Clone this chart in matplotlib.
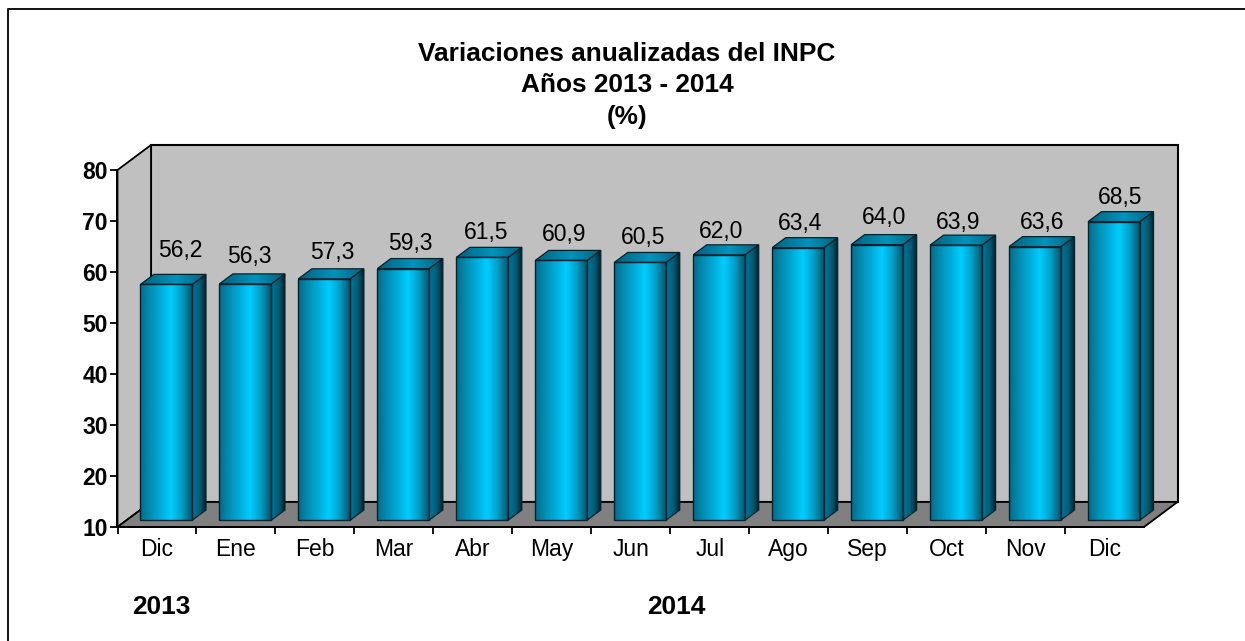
import numpy as np
import matplotlib
matplotlib.use("Agg")
import matplotlib.pyplot as plt
from matplotlib.colors import LinearSegmentedColormap
from matplotlib.patches import Polygon, Rectangle
from matplotlib.transforms import Affine2D

months = ["Dic", "Ene", "Feb", "Mar", "Abr", "May", "Jun", "Jul", "Ago", "Sep", "Oct", "Nov", "Dic"]
labels = ["56,2", "56,3", "57,3", "59,3", "61,5", "60,9", "60,5", "62,0", "63,4", "64,0", "63,9", "63,6", "68,5"]
values = [56.2, 56.3, 57.3, 59.3, 61.5, 60.9, 60.5, 62.0, 63.4, 64.0, 63.9, 63.6, 68.5]
yticks = [10, 20, 30, 40, 50, 60, 70, 80]
years = ["2013", "2014"]
title_lines = ["Variaciones anualizadas del INPC", "Años 2013 - 2014", "(%)"]

# hand placement of the value labels relative to each bar's top centre (pixels)
label_dx = [14, 4, 8, 7, 4, 3, 3, 2, 2, 7, 2, 7, 6]
label_dy = [34, 27, 26, 25, 25, 25.5, 24.5, 23, 24, 27, 23, 24, 24]

W, H = 1245, 641
plt.rcParams['font.family'] = ['Liberation Sans', 'DejaVu Sans']
fig = plt.figure(figsize=(W / 100, H / 100), dpi=100, facecolor="white")
L, R, B, T = 117.5, 1144, 527, 170
ax = fig.add_axes([L / W, 1 - B / H, (R - L) / W, (B - T) / H])
ax.set_xlim(-0.5, 12.5)
ax.set_ylim(10, 80)
ax.patch.set_visible(False)
for s in ("top", "right"):
    ax.spines[s].set_visible(False)
for s in ("left", "bottom"):
    ax.spines[s].set_linewidth(1.4)
    ax.spines[s].set_zorder(1.5)

WALL = (33.5, 25)
def off(dx, dy):
    return ax.transData + Affine2D().translate(dx, dy)

x0, x1 = ax.get_xlim()
y0, y1 = ax.get_ylim()
wx, wy = WALL
ec = "#000000"
ax.add_patch(Rectangle((x0, y0), x1 - x0, y1 - y0, fc="#c0c0c0", ec=ec, lw=1.5,
                       transform=off(wx, wy), clip_on=False, zorder=0.5))
dl = ax.transData.transform([(x0, y0), (x0, y1), (x1, y0)])
(ax_l, ay_b), (_, ay_t), (ax_r, _) = dl
disp = Affine2D()
ax.add_patch(Polygon([(ax_l, ay_b), (ax_l, ay_t), (ax_l + wx, ay_t + wy), (ax_l + wx, ay_b + wy)],
                     closed=True, fc="#c0c0c0", ec=ec, lw=1.3, transform=disp, clip_on=False, zorder=0.6))
ax.add_patch(Polygon([(ax_l, ay_b), (ax_r, ay_b), (ax_r + wx, ay_b + wy), (ax_l + wx, ay_b + wy)],
                     closed=True, fc="#808080", ec=ec, lw=1.3, transform=disp, clip_on=False, zorder=0.7))

front = LinearSegmentedColormap.from_list("f", [(0, "#046a88"), (0.15, "#0486aa"), (0.6, "#00ccff"), (0.8, "#03a0c8"), (1, "#04566e")])
side = LinearSegmentedColormap.from_list("s", [(0, "#00789e"), (0.6, "#005870"), (1, "#001c26")])
top = LinearSegmentedColormap.from_list("t", [(0, "#04607c"), (0.55, "#0094bd"), (1, "#04607c")])
g = np.linspace(0, 1, 128)[None, :]

bw = 52 / ((R - L) / 13)
sx, sy = 9.5, 7
dx, dy = 13.5, 10
for i, v in enumerate(values):
    a, b = i - bw / 2, i + bw / 2
    z = 2 + i * 0.01
    t = off(sx, sy)
    ax.imshow(g, cmap=front, extent=(a, b, y0, v), aspect="auto", transform=t, zorder=z, clip_on=False)
    ax.add_patch(Rectangle((a, y0), b - a, v - y0, fc="none", ec="#06222c", lw=1.0, transform=t, zorder=z + 0.003, clip_on=False))
    pa, pb = ax.transData.transform([(a, y0), (b, v)])
    xa, ya = pa + (sx, sy)
    xb, yb = pb + (sx, sy)
    inv = ax.transData.inverted()
    poly = Polygon([(xb, ya), (xb, yb), (xb + dx, yb + dy), (xb + dx, ya + dy)], closed=True, fc="none", ec="#06222c", lw=0.9,
                   transform=disp, zorder=z + 0.003, clip_on=False)
    ax.add_patch(poly)
    (ea, ev0), (eb, ev1) = inv.transform([(xb, ya), (xb + dx, yb + dy)])
    im2 = ax.imshow(g, cmap=side, extent=(ea, eb, ev0, ev1), aspect="auto", zorder=z + 0.001)
    im2.set_clip_path(poly)
    im2.set_clip_box(fig.bbox)
    poly2 = Polygon([(xa, yb), (xb, yb), (xb + dx, yb + dy), (xa + dx, yb + dy)], closed=True, fc="none", ec="#06222c", lw=0.9,
                    transform=disp, zorder=z + 0.003, clip_on=False)
    ax.add_patch(poly2)
    (ea, ev0), (eb, ev1) = inv.transform([(xa, yb), (xb + dx, yb + dy)])
    im3 = ax.imshow(g, cmap=top, extent=(ea, eb, ev0, ev1), aspect="auto", zorder=z + 0.002)
    im3.set_clip_path(poly2)
    im3.set_clip_box(fig.bbox)
    ax.annotate(labels[i], (i, v), xytext=(sx + label_dx[i], sy + label_dy[i]), textcoords="offset pixels",
                ha="center", va="center", fontsize=16.5, color="#000000", zorder=5, annotation_clip=False)

ax.set_xlim(x0, x1)
ax.set_ylim(y0, y1)
ax.set_xticks(np.arange(-0.5, 12.0, 1))
ax.set_xticklabels([])
ax.tick_params(axis="x", length=5, width=1.3, color="black")
ax.set_yticks(yticks)
ax.set_yticklabels([str(t) for t in yticks], fontsize=16.5, fontweight="bold")
ax.tick_params(axis="y", length=5, width=1.3, color="black", pad=2)
for i, m in enumerate(months):
    ax.annotate(m, (i, y0), xytext=(0, -29), textcoords="offset pixels", ha="center", va="baseline",
                fontsize=16.5, annotation_clip=False)

fig.add_artist(plt.Line2D([8 / W, 8 / W, 1], [0, 1 - 8.5 / H, 1 - 8.5 / H], color="#111111", lw=1.4))

for line, yp in zip(title_lines, (54, 85, 117)):
    fig.text(627 / W, 1 - yp / H, line, ha="center", va="center", fontsize=18.9, fontweight="bold")
for yr, xp in zip(years, (161, 676)):
    fig.text(xp / W, 1 - 607 / H, yr, ha="center", va="center", fontsize=18.9, fontweight="bold")

fig.savefig("out.png", dpi=100, facecolor="white")
